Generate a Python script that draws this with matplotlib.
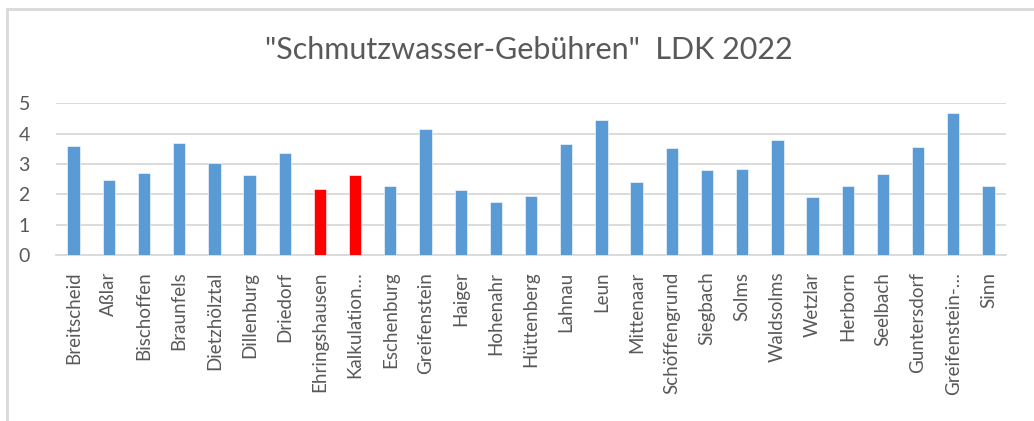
import numpy as np
import matplotlib.pyplot as plt
from matplotlib.patches import Rectangle

# ============================================================
# Data
# ============================================================
GEMEINDEN = [
    "Breitscheid", "Aßlar", "Bischoffen", "Braunfels", "Dietzhölztal",
    "Dillenburg", "Driedorf", "Ehringshausen", "Kalkulation…", "Eschenburg",
    "Greifenstein", "Haiger", "Hohenahr", "Hüttenberg", "Lahnau", "Leun",
    "Mittenaar", "Schöffengrund", "Siegbach", "Solms", "Waldsolms", "Wetzlar",
    "Herborn", "Seelbach", "Guntersdorf", "Greifenstein-…", "Sinn",
]
GEBUEHREN = [
    3.59, 2.47, 2.71, 3.68, 3.04, 2.63, 3.35, 2.16, 2.63, 2.26,
    4.16, 2.15, 1.75, 1.96, 3.65, 4.44, 2.40, 3.52, 2.79, 2.84,
    3.80, 1.91, 2.27, 2.67, 3.56, 4.69, 2.27,
]
HERVORGEHOBEN = ["Ehringshausen", "Kalkulation…"]

TITLE = '"Schmutzwasser-Gebühren"  LDK 2022'
Y_TICKS = [0, 1, 2, 3, 4, 5]

BLUE = "#5B9BD5"
RED = "#FF0000"
GRID = "#D9D9D9"
TEXT = "#595959"

plt.rcParams["font.family"] = ["Lato", "DejaVu Sans"]

fig = plt.figure(figsize=(10.34, 4.21), dpi=100)
ax = fig.add_axes([0.0542, 0.3943, 0.9188, 0.3603])

# chart frame (cropped Excel chart border)
fig.patches.append(Rectangle((7 / 1034, -0.1), 1.2, 1 - 9 / 421 + 0.1,
                             transform=fig.transFigure, fill=False,
                             edgecolor="#D9D9D9", linewidth=2))

x = np.arange(len(GEMEINDEN))
colors = [RED if g in HERVORGEHOBEN else BLUE for g in GEMEINDEN]
ax.bar(x, GEBUEHREN, width=0.35, color=colors, edgecolor="white", linewidth=0.4,
       zorder=3)

ax.set_xlim(-0.5, len(GEMEINDEN) - 0.5)
ax.set_ylim(0, 5)
ax.set_yticks(Y_TICKS)
ax.yaxis.grid(True, color=GRID, linewidth=1.3, zorder=0)
ax.set_axisbelow(True)

ax.set_xticks(x)
ax.set_xticklabels(GEMEINDEN, rotation=90, fontsize=13.5, color=TEXT)
ax.tick_params(axis="x", length=0, pad=12)
ax.tick_params(axis="y", length=0, labelsize=14, labelcolor=TEXT)
for lbl in ax.get_yticklabels():
    lbl.set_horizontalalignment("left")
ax.yaxis.set_tick_params(pad=27)

for side in ["top", "right", "left"]:
    ax.spines[side].set_visible(False)
ax.spines["bottom"].set_color(GRID)
ax.spines["bottom"].set_linewidth(1.3)

fig.text(529 / 1034, 1 - 50 / 421, TITLE, ha="center", va="center",
         fontsize=22, color=TEXT)

fig.savefig("out.png", dpi=100)
